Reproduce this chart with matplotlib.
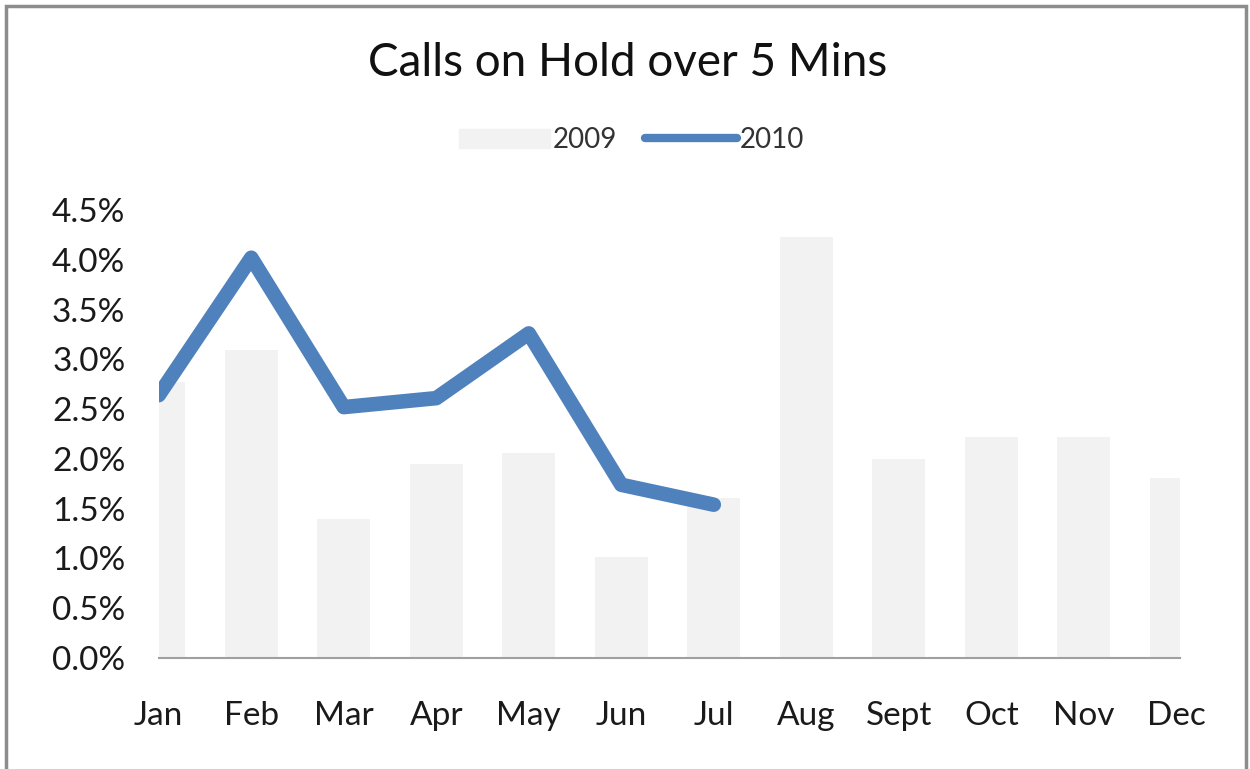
import matplotlib.pyplot as plt
from matplotlib.patches import Rectangle
from matplotlib.lines import Line2D
from matplotlib.ticker import PercentFormatter

months = ["Jan", "Feb", "Mar", "Apr", "May", "Jun", "Jul", "Aug", "Sept", "Oct", "Nov", "Dec"]
calls_2009 = [2.77, 3.09, 1.40, 1.95, 2.06, 1.01, 1.61, 4.23, 2.00, 2.22, 2.22, 1.81]
calls_2010 = [2.64, 4.02, 2.52, 2.61, 3.26, 1.74, 1.54]

plt.rcParams['font.family'] = ['Lato', 'DejaVu Sans']

fig = plt.figure(figsize=(12.5, 7.69), dpi=100)
ax = fig.add_axes([0.127, 0.1443, 0.817, 0.5827])

x = list(range(len(months)))
ax.bar(x, calls_2009, width=0.57, color="#F2F2F2", label="2009", zorder=1)
ax.plot(x[:len(calls_2010)], calls_2010, color="#4F81BD", lw=10.5,
        solid_capstyle="round", solid_joinstyle="round", zorder=2)

ax.set_xlim(0, 11.04)
ax.set_ylim(0, 4.5)
ax.set_yticks([i * 0.5 for i in range(10)])
ax.yaxis.set_major_formatter(PercentFormatter(decimals=1))
ax.set_xticks(x)
ax.set_xticklabels(months)
ax.tick_params(axis="both", length=0, labelsize=24, colors="#1A1A1A")
ax.tick_params(axis="x", pad=31)
ax.tick_params(axis="y", pad=24)
for s in ["left", "right", "top"]:
    ax.spines[s].set_visible(False)
ax.spines["bottom"].set_color("#A0A0A0")
ax.spines["bottom"].set_linewidth(1.5)

fig.text(0.502, 0.918, "Calls on Hold over 5 Mins", ha="center", va="center",
         fontsize=33, color="#111111")

handles = [Rectangle((0, 0), 1, 1, color="#F2F2F2"),
           Line2D([0], [0], color="#4F81BD", lw=6, solid_capstyle="round")]
fig.legend(handles, ["2009", "2010"], loc="center", bbox_to_anchor=(0.505, 0.818),
           ncol=2, frameon=False, fontsize=20, handlelength=3.3, handletextpad=0.1,
           columnspacing=1.0, labelcolor="#333333")

fig.add_artist(Rectangle((0.005, -0.05), 0.992, 1.042, transform=fig.transFigure,
                         fill=False, edgecolor="#8C8C8C", lw=2.5))

fig.savefig("out.png", dpi=100)
